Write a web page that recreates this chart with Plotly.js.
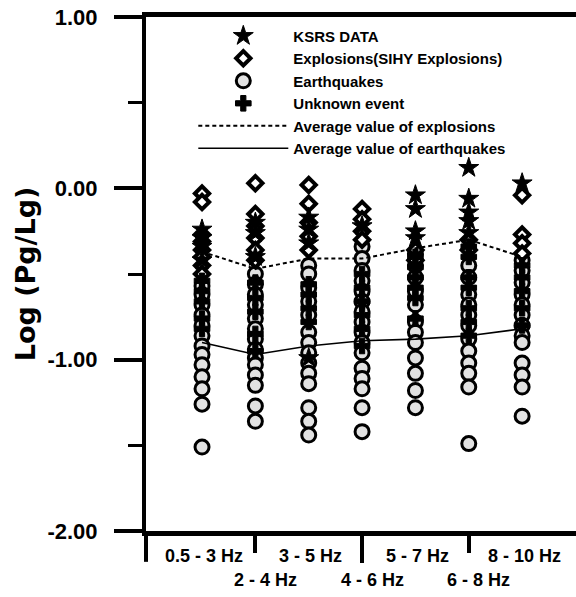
<!DOCTYPE html>
<html>
<head>
<meta charset="utf-8">
<script src="https://cdn.plot.ly/plotly-3.0.1.min.js"></script>
<style>html,body{margin:0;padding:0;background:#fff;}#chart{width:576px;height:597px;}</style>
</head>
<body>
<div id="chart"></div>
<script>
// ---- data ----
const categories = ['0.5 - 3 Hz','2 - 4 Hz','3 - 5 Hz','4 - 6 Hz','5 - 7 Hz','6 - 8 Hz','8 - 10 Hz'];

const ksrsData = [
  [-0.24,-0.29,-0.34,-0.42],
  [-0.20,-0.26,-0.40],
  [-0.17,-0.24,-0.32,-0.99],
  [-0.22],
  [-0.04,-0.12,-0.25,-0.29],
  [0.12,-0.06,-0.14,-0.19,-0.26],
  [0.03]
];
const explosions = [
  [-0.03,-0.08,-0.27,-0.31,-0.36,-0.40,-0.45,-0.50],
  [0.03,-0.15,-0.22,-0.29,-0.36,-0.42],
  [0.02,-0.09,-0.20,-0.28,-0.36],
  [-0.12,-0.18,-0.25,-0.30],
  [-0.36,-0.42],
  [-0.30,-0.36],
  [-0.04,-0.27,-0.32,-0.38]
];
const unknownEvents = [
  [-0.54,-0.60,-0.66,-0.76,-0.82],
  [-0.55,-0.64,-0.72,-0.85,-0.95],
  [-0.56,-0.62,-0.70,-0.78],
  [-0.50,-0.58,-0.66,-0.74,-0.82,-0.92],
  [-0.40,-0.46,-0.52,-0.58,-0.64,-0.76],
  [-0.34,-0.40,-0.52,-0.58,-0.70,-0.78,-0.86],
  [-0.45,-0.52,-0.60,-0.70,-0.80]
];
const earthquakes = [
  [-0.57,-0.62,-0.68,-0.74,-0.80,-0.86,-0.92,-0.97,-1.03,-1.10,-1.17,-1.26,-1.51],
  [-0.50,-0.56,-0.62,-0.68,-0.76,-0.82,-0.88,-0.94,-0.99,-1.03,-1.09,-1.15,-1.27,-1.36],
  [-0.45,-0.50,-0.58,-0.66,-0.74,-0.84,-0.90,-0.96,-1.02,-1.08,-1.14,-1.28,-1.36,-1.44],
  [-0.34,-0.41,-0.48,-0.54,-0.60,-0.66,-0.72,-0.78,-0.84,-0.90,-0.96,-1.05,-1.11,-1.17,-1.28,-1.42],
  [-0.38,-0.45,-0.52,-0.60,-0.68,-0.78,-0.84,-0.90,-0.99,-1.08,-1.18,-1.28],
  [-0.45,-0.52,-0.62,-0.68,-0.74,-0.80,-0.88,-0.95,-1.02,-1.08,-1.16,-1.49],
  [-0.42,-0.48,-0.55,-0.62,-0.68,-0.74,-0.80,-0.86,-0.90,-1.02,-1.09,-1.16,-1.33]
];
const avgExplosions  = [-0.37,-0.47,-0.41,-0.41,-0.35,-0.30,-0.40];
const avgEarthquakes = [-0.90,-0.97,-0.92,-0.89,-0.88,-0.86,-0.82];

const yTickVals = [-2, -1, 0, 1];
const yTickText = ['-2.00', '-1.00', '0.00', '1.00'];

// ---- build traces ----
function flat(groups){
  const x=[], y=[];
  groups.forEach((g,i)=>g.forEach(v=>{x.push(i+1); y.push(v);}));
  return {x,y};
}
const catIdx = categories.map((c,i)=>i+1);

const eq = flat(earthquakes), ex = flat(explosions), ks = flat(ksrsData), un = flat(unknownEvents);

const traces = [
  {x:eq.x, y:eq.y, mode:'markers', type:'scatter', name:'Earthquakes', legendrank:3,
   marker:{symbol:'circle', size:14, color:'#e2e2e2', line:{color:'#000', width:3}}},
  {x:ex.x, y:ex.y, mode:'markers', type:'scatter', name:'Explosions(SIHY Explosions)', legendrank:2,
   marker:{symbol:'diamond', size:11, color:'#fff', line:{color:'#000', width:4}}},
  {x:ks.x, y:ks.y, mode:'markers', type:'scatter', name:'KSRS DATA', legendrank:1,
   marker:{symbol:'star', size:15, color:'#000', line:{color:'#000', width:1}}},
  {x:un.x, y:un.y, mode:'markers', type:'scatter', name:'Unknown event', legendrank:4,
   marker:{symbol:'cross', size:13, color:'#000', line:{color:'#000', width:1}}},
  {x:catIdx, y:avgExplosions, mode:'lines', type:'scatter', name:'Average value of explosions', legendrank:5,
   line:{color:'#000', width:2, dash:'4px,3px'}},
  {x:catIdx, y:avgEarthquakes, mode:'lines', type:'scatter', name:'Average value of earthquakes', legendrank:6,
   line:{color:'#000', width:1.6}}
];
// invisible trace to hold the second (long-tick) x axis
traces.push({x:[4], y:[-3], xaxis:'x2', yaxis:'y', mode:'markers', showlegend:false, hoverinfo:'skip', marker:{opacity:0}});

const xr = [-0.05, 8.01];
const row1 = [], row2 = [];
categories.forEach((c,i)=>{ (i%2===0?row1:row2).push({text:c, x:i+1}); });

const annotations = [];
row1.forEach(a=>annotations.push({x:a.x, y:-0.0486, xref:'x', yref:'paper', text:a.text, showarrow:false, xanchor:'center', yanchor:'middle', xshift:2,
  font:{family:'Liberation Sans, Arial, sans-serif', size:18, color:'#000', weight:'bold'}}));
row2.forEach(a=>annotations.push({x:a.x, y:-0.0953, xref:'x', yref:'paper', text:a.text, showarrow:false, xanchor:'center', yanchor:'middle', xshift:10,
  font:{family:'Liberation Sans, Arial, sans-serif', size:18, color:'#000', weight:'bold'}}));

const layout = {
  width:576, height:597,
  margin:{l:146, r:0, t:17, b:66, pad:0},
  paper_bgcolor:'#fff', plot_bgcolor:'#fff',
  showlegend:true,
  legend:{x:0.11, y:0.995, xanchor:'left', yanchor:'top', bgcolor:'rgba(0,0,0,0)', borderwidth:0,
    itemwidth:90, tracegroupgap:0,
    font:{family:'Liberation Sans, Arial, sans-serif', size:15, color:'#000', weight:'bold'}},
  xaxis:{range:xr, showgrid:false, zeroline:false, showline:true, linecolor:'#000', linewidth:5, mirror:true,
    ticks:'outside', tickvals:[2,6], ticklen:17, tickwidth:4, tickcolor:'#000', showticklabels:false, fixedrange:true},
  xaxis2:{range:xr, overlaying:'x', anchor:'y', side:'bottom', showgrid:false, zeroline:false, showline:false,
    ticks:'outside', tickvals:[4], ticklen:31, tickwidth:4, tickcolor:'#000', showticklabels:false, fixedrange:true},
  yaxis:{range:[-2,1], showgrid:false, zeroline:false, showline:true, linecolor:'#000', linewidth:4,
    ticks:'outside', tickvals:yTickVals, ticktext:yTickText, ticklen:28, tickwidth:4, tickcolor:'#000',
    ticklabelstandoff:12,
    minor:{dtick:0.5, tick0:0, ticks:'outside', ticklen:14, tickwidth:3, tickcolor:'#000'},
    tickfont:{family:'Liberation Sans, Arial, sans-serif', size:22, color:'#000', weight:'bold'},
    title:{text:'Log (Pg/Lg)', standoff:5, font:{family:'DejaVu Sans, sans-serif', size:27, color:'#000', weight:'bold'}},
    fixedrange:true},
  shapes:[
    {type:'line', xref:'paper', yref:'paper', x0:0, x1:0, y0:-0.06, y1:0, line:{color:'#000', width:4}, layer:'above'}
  ],
  annotations:annotations
};

Plotly.newPlot('chart', traces, layout, {displayModeBar:false, staticPlot:true});
</script>
</body>
</html>
